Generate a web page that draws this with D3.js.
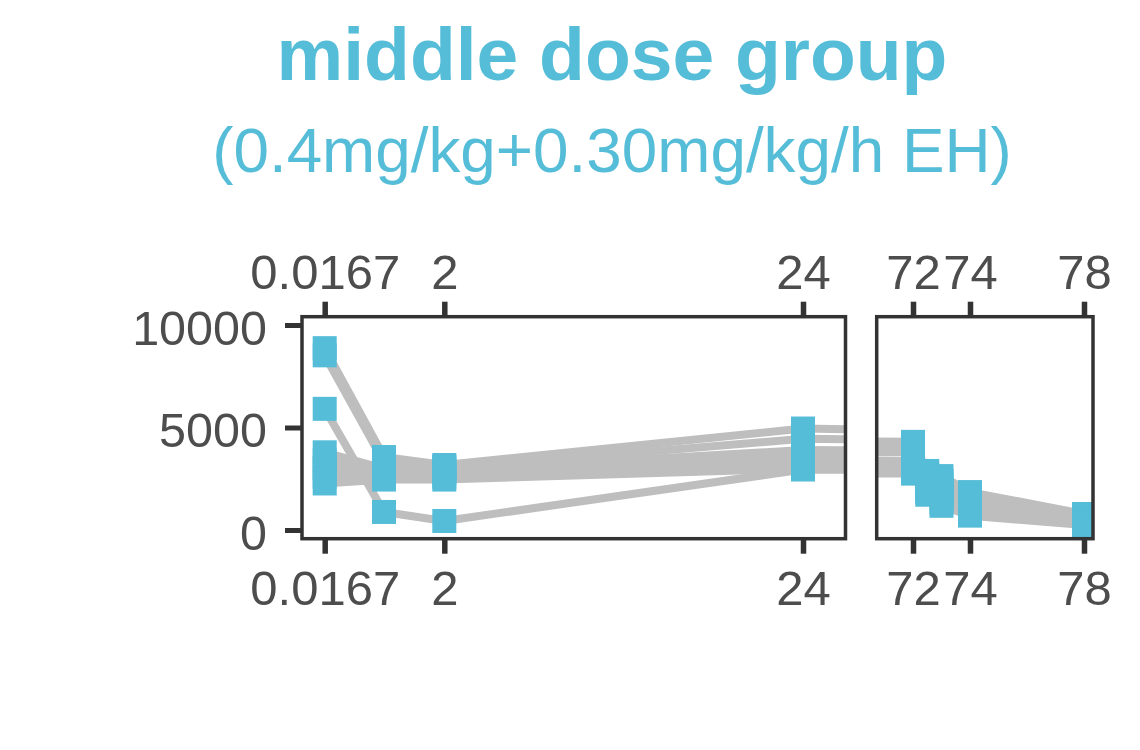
<!DOCTYPE html>
<html><head><meta charset="utf-8">
<script src="https://cdn.jsdelivr.net/npm/d3@7/dist/d3.min.js"></script>
<style>body{margin:0;background:#fff}svg{display:block}</style>
</head><body>
<svg id="chart" width="1140" height="750"></svg>
<script>
// ---- data ----
const times = [0.0167, 1, 2, 24, 72, 72.5, 73, 74, 78];
const subjectA = [8870, 3560, 3170, 4950, 4300, 2880, 2630, 1850, 780];
const subjectB = [8520, 3300, 3000, 4450, 4100, 2700, 2400, 1650, 650];
const subjectC = [3790, 3000, 2900, 3900, 3800, 2500, 2200, 1500, 560];
const subjectD = [3400, 2800, 3100, 3650, 3380, 2300, 1950, 1300, 480];
const subjectE = [3000, 2700, 2800, 3400, 3100, 2150, 1750, 1150, 420];
const subjectF = [2600, 2500, 2600, 3150, 2900, 2000, 1550, 1000, 350];
const subjectG = [2270, 2460, 2460, 3000, 2750, 1850, 1350, 850, 300];
const subjectH = [5910, 880, 440, 2950, 2800, 1720, 1180, 700, 240];
const subjects = [subjectA, subjectB, subjectC, subjectD, subjectE, subjectF, subjectG, subjectH];
const leftTicks = [0.0167, 2, 24];
const rightTicks = [72, 74, 78];
const yTicks = [0, 5000, 10000];
const titleText = "middle dose group";
const subtitleText = "(0.4mg/kg+0.30mg/kg/h EH)";

// ---- styles ----
const BLUE = "#55BDD7";
const LINE = "#BEBEBE";
const AXIS = "#333333";
const LABEL = "#4D4D4D";
const FONT = "'Liberation Sans', Arial, sans-serif";

const svg = d3.select("#chart");
svg.append("rect").attr("width", 1140).attr("height", 750).attr("fill", "#fff");

svg.append("text").attr("x", 612).attr("y", 80).attr("text-anchor", "middle")
  .attr("font-family", FONT).attr("font-weight", "bold").attr("font-size", 75)
  .attr("fill", BLUE).text(titleText);
svg.append("text").attr("x", 612).attr("y", 172).attr("text-anchor", "middle")
  .attr("font-family", FONT).attr("font-size", 63.8)
  .attr("fill", BLUE).text(subtitleText);

const y = d3.scaleLinear().domain([0, 10000]).range([530, 325]);
const panelTop = 316.7, panelBottom = 538.7;

const panels = [
  { id: "L", x0: 302, x1: 845.5,
    x: d3.scaleLinear().domain([0.0167, 2, 24]).range([324.7, 444.3, 803]),
    ticks: leftTicks, yaxis: true },
  { id: "R", x0: 876.7, x1: 1093,
    x: d3.scaleLinear().domain([72, 78]).range([913, 1084]),
    ticks: rightTicks, yaxis: false }
];

const series = subjects.map(vals => vals.map((v, i) => ({ t: times[i], v })));
const M = 24; // marker size

panels.forEach(p => {
  const clipId = "clip" + p.id;
  svg.append("clipPath").attr("id", clipId).append("rect")
    .attr("x", p.x0).attr("y", panelTop).attr("width", p.x1 - p.x0).attr("height", panelBottom - panelTop);
  const g = svg.append("g").attr("clip-path", `url(#${clipId})`);
  const line = d3.line().x(d => p.x(d.t)).y(d => y(d.v));
  g.selectAll("path.s").data(series).join("path")
    .attr("d", line).attr("fill", "none").attr("stroke", LINE)
    .attr("stroke-width", 8).attr("stroke-linejoin", "round");
  g.selectAll("g.m").data(series).join("g").selectAll("rect")
    .data(d => d).join("rect")
    .attr("x", d => p.x(d.t) - M / 2).attr("y", d => y(d.v) - M / 2)
    .attr("width", M).attr("height", M).attr("fill", BLUE);

  svg.append("rect").attr("x", p.x0).attr("y", panelTop)
    .attr("width", p.x1 - p.x0).attr("height", panelBottom - panelTop)
    .attr("fill", "none").attr("stroke", AXIS).attr("stroke-width", 3.5);

  const fmt = d => String(d);
  const ax = svg.append("g").attr("transform", `translate(0,${panelTop})`)
    .call(d3.axisTop(p.x).tickValues(p.ticks).tickFormat(fmt).tickSize(15).tickSizeOuter(0));
  const bx = svg.append("g").attr("transform", `translate(0,${panelBottom})`)
    .call(d3.axisBottom(p.x).tickValues(p.ticks).tickFormat(fmt).tickSize(15).tickSizeOuter(0));
  [ax, bx].forEach(a => {
    a.select(".domain").remove();
    a.selectAll(".tick line").attr("stroke", AXIS).attr("stroke-width", 5.5);
    a.selectAll(".tick text").attr("fill", LABEL).attr("font-family", FONT).attr("font-size", 49);
  });
  ax.selectAll(".tick text").attr("y", -28).attr("dy", null);
  bx.selectAll(".tick text").attr("y", 66.5).attr("dy", null);

  if (p.yaxis) {
    const yx = svg.append("g").attr("transform", `translate(${p.x0},0)`)
      .call(d3.axisLeft(y).tickValues(yTicks).tickFormat(fmt).tickSize(17).tickSizeOuter(0));
    yx.select(".domain").remove();
    yx.selectAll(".tick line").attr("stroke", AXIS).attr("stroke-width", 5);
    yx.selectAll(".tick text").attr("fill", LABEL).attr("font-family", FONT).attr("font-size", 48.5)
      .attr("x", -35).attr("dy", null).attr("y", 19);
  }
});
</script>
</body></html>
